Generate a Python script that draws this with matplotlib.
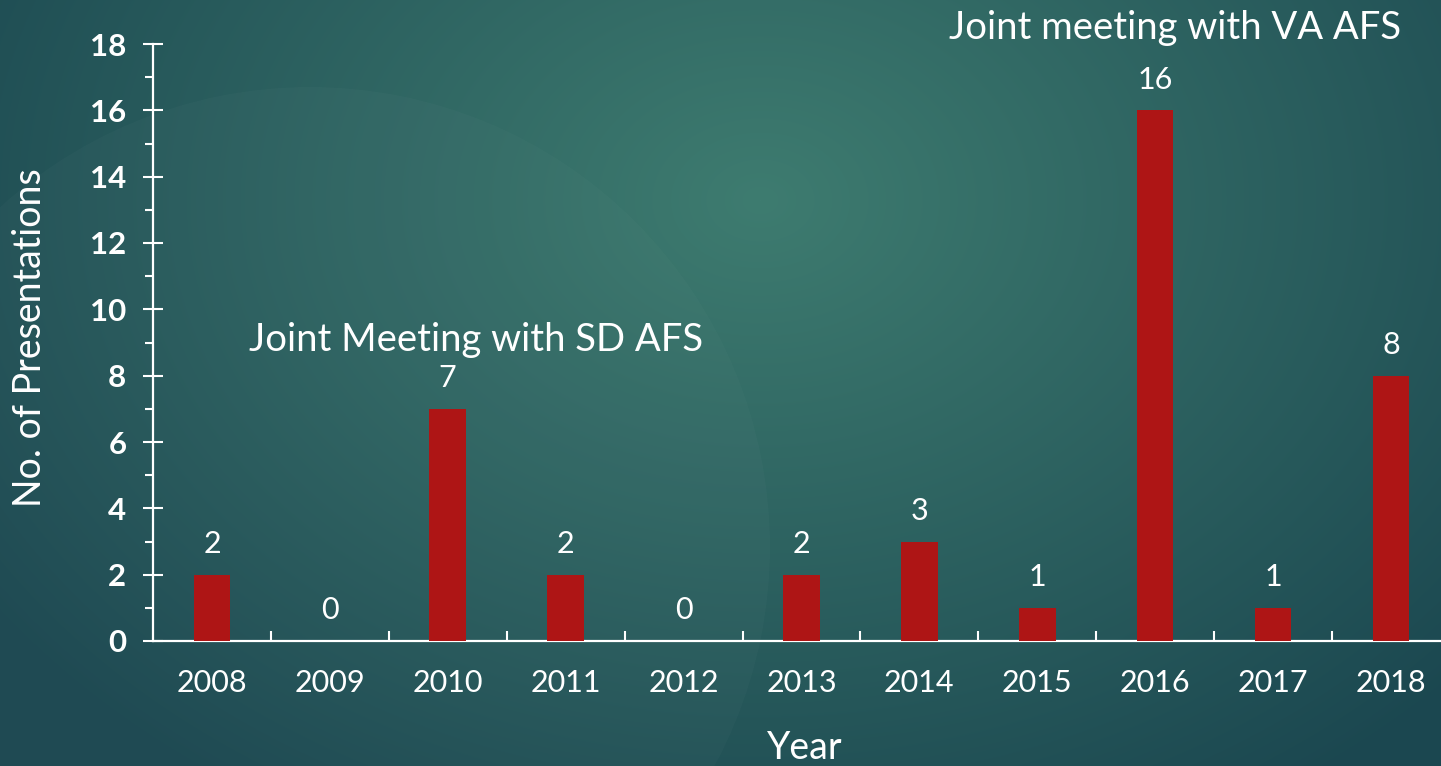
import numpy as np
import matplotlib
matplotlib.use('Agg')
import matplotlib.pyplot as plt
from matplotlib.patches import Circle
from matplotlib.ticker import MultipleLocator, FixedLocator

years = ['2008', '2009', '2010', '2011', '2012', '2013', '2014', '2015', '2016', '2017', '2018']
presentations = [2, 0, 7, 2, 0, 2, 3, 1, 16, 1, 8]
notes = ['Joint Meeting with SD AFS', 'Joint meeting with VA AFS']

W, H = 1441, 766
fig = plt.figure(figsize=(W / 100, H / 100), dpi=100)

# background: teal radial gradient + faint circle
bg = fig.add_axes([0, 0, 1, 1], zorder=0)
xx, yy = np.meshgrid(np.arange(W), np.arange(H))
d = np.sqrt(((xx - 760) / 950.0) ** 2 + ((yy - 200) / 720.0) ** 2)
t = np.clip(d, 0, 1)[..., None]
light = np.array([0x3e, 0x7c, 0x70]) / 255
dark = np.array([0x1b, 0x47, 0x50]) / 255
img = light * (1 - t) + dark * t
bg.imshow(img, extent=(0, W, H, 0), aspect='auto')
bg.add_patch(Circle((310, 547), 460, color='white', alpha=0.02, lw=0))
bg.set_xlim(0, W)
bg.set_ylim(H, 0)
bg.axis('off')

x0, unit = 153, 117.9
ax = fig.add_axes([x0 / W, 1 - 641 / H, (W - x0) / W, (641 - 44) / H], zorder=1)
ax.patch.set_alpha(0)

pos = np.arange(len(years))
ax.bar(pos, presentations, width=0.31, color='#ae1515', zorder=3)
ax.set_xlim(-0.5, -0.5 + (W - x0) / unit)
ax.set_ylim(0, 18)

txt = dict(family=['Lato', 'DejaVu Sans'], weight='normal', color='white')

for i, v in enumerate(presentations):
    ax.annotate(str(v), (i, v), xytext=(0, 12), textcoords='offset points',
                ha='center', va='bottom', fontsize=22, **txt)

ax.text(2.24, 9.07, notes[0], ha='center', va='center', fontsize=27.5, clip_on=False, **txt)
ax.text(8.17, 18.48, notes[1], ha='center', va='center', fontsize=27.5, clip_on=False, **txt)

for s in ['top', 'right']:
    ax.spines[s].set_visible(False)
for s in ['left', 'bottom']:
    ax.spines[s].set_color('white')
    ax.spines[s].set_linewidth(1.6)

ax.set_xticks(pos)
ax.set_xticklabels(years, fontsize=22, **txt)
ax.tick_params(axis='x', which='major', length=0, pad=20)
ax.xaxis.set_minor_locator(FixedLocator(pos[:-1] + 0.5))
ax.tick_params(axis='x', which='minor', direction='in', length=7.5, width=1.5, color='white')

ax.yaxis.set_major_locator(MultipleLocator(2))
ax.yaxis.set_minor_locator(MultipleLocator(1))
ax.tick_params(axis='y', which='major', direction='inout', length=14.5, width=1.5,
               color='white', labelcolor='white', pad=12)
ax.tick_params(axis='y', which='minor', direction='out', length=5.8, width=1.5, color='white')
for lab in ax.get_yticklabels():
    lab.set_fontsize(22.5)
    lab.set_fontweight('bold')
    lab.set_family(['Lato', 'DejaVu Sans'])

fig.text(30 / W, 1 - 338 / H, 'No. of Presentations', rotation=90, ha='center', va='center',
         fontsize=27, **txt)
fig.text(805 / W, 1 - 748 / H, 'Year', ha='center', va='center', fontsize=27, **txt)

fig.savefig('out.png', dpi=100)
